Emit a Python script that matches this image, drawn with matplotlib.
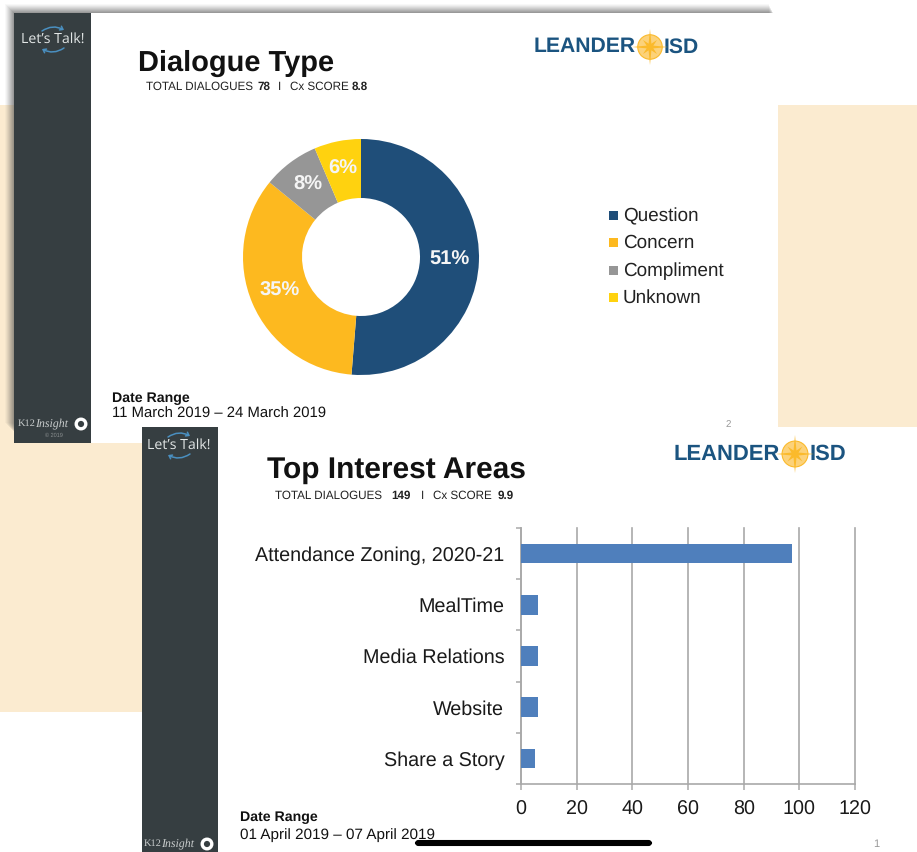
"""Two overlapping K12 Insight slides: dialogue type donut and top interest areas bars."""
import matplotlib
matplotlib.use("Agg")
import matplotlib.pyplot as plt
import numpy as np
from matplotlib.patches import Circle, FancyArrowPatch, FancyBboxPatch, Polygon, Rectangle

W, H = 917, 852

# donut data (78 dialogues in total, labels are rounded shares)
type_labels = ["Question", "Concern", "Compliment", "Unknown"]
type_values = [40, 27, 6, 5]
type_colors = ["#1F4E79", "#FDB91F", "#969696", "#FFD20F"]

# bar data
area_labels = ["Attendance Zoning, 2020-21", "MealTime", "Media Relations", "Website", "Share a Story"]
area_values = [97.5, 6, 6, 6, 5]
area_ticks = [0, 20, 40, 60, 80, 100, 120]

CREAM = "#FBEBD0"
SLATE = "#363E41"
NAVY = "#1B5480"
GOLD = "#FBBA2B"
GRID = "#A9A9A9"
INK = "#111111"
ARIAL = "Liberation Sans"

plt.rcParams["font.family"] = ARIAL
plt.rcParams["text.hinting"] = "none"
plt.rcParams["text.hinting_factor"] = 8


def px_axes(fig, x0, y0, x1, y1):
    """Axes placed with pixel edges measured from the top left of the figure."""
    return fig.add_axes([x0 / W, 1 - y1 / H, (x1 - x0) / W, (y1 - y0) / H])


def rect(ax, x0, y0, x1, y1, color, z=1, alpha=1.0):
    ax.add_patch(Rectangle((x0, y0), x1 - x0, y1 - y0, fc=color, ec="none", zorder=z, alpha=alpha))


def lets_talk(ax, cx, cy):
    ax.text(cx, cy, "Let\u2019s Talk!", color="#E2E6E6", fontsize=10.2, family="Open Sans",
            ha="center", va="center", zorder=5)
    ax.add_patch(FancyArrowPatch((cx - 11, cy - 8), (cx + 11, cy - 9), connectionstyle="arc3,rad=-0.3",
                                 arrowstyle="->,head_length=2,head_width=1.5", color="#4A8FC0", lw=1.1, zorder=5,
                                 shrinkA=0, shrinkB=0))
    ax.add_patch(FancyArrowPatch((cx + 11, cy + 9), (cx - 11, cy + 10), connectionstyle="arc3,rad=-0.3",
                                 arrowstyle="->,head_length=2,head_width=1.5", color="#4A8FC0", lw=1.1, zorder=5,
                                 shrinkA=0, shrinkB=0))


def k12(ax, x, y, r_x, copyright_mark=False):
    ax.text(x, y, "K12", color="#C9CDCD", fontsize=7.5, family="Liberation Serif", va="center", zorder=5)
    ax.text(x + 17, y, "Insight", color="#C9CDCD", fontsize=8.6, family="Liberation Serif",
            style="italic", va="center", zorder=5)
    ax.add_patch(Circle((r_x, y), 4.8, fc="none", ec="white", lw=2.4, zorder=5))
    if copyright_mark:
        ax.text(r_x - 27, y + 11, "\u00a9 2019", color="#8A8F90", fontsize=4, ha="center", va="center", zorder=5)


def logo(ax, xc, y, size, star):
    ax.text(xc - star * 0.78, y, "LEANDER", color=NAVY, fontsize=size, weight="bold",
            ha="right", va="center", zorder=5)
    ax.text(xc + star * 0.75, y, "ISD", color=NAVY, fontsize=size, weight="bold",
            ha="left", va="center", zorder=5)
    ax.add_patch(Circle((xc, y), star * 0.68, fc="#FCD27A", ec=GOLD, lw=0.8, zorder=6))
    pts = []
    for i in range(16):
        ang = np.pi * i / 8
        r = [star, star * 0.2, star * 0.55, star * 0.2][i % 4]
        pts.append((xc + r * np.sin(ang), y - r * np.cos(ang)))
    ax.add_patch(Polygon(pts, fc=GOLD, ec="none", zorder=7))


def subtitle(ax, y, parts):
    for x, s, bold in parts:
        ax.text(x, y, s, fontsize=8.4, color="#222222", weight="bold" if bold else "normal",
                ha="left", va="center", zorder=5)


fig = plt.figure(figsize=(W / 100, H / 100), dpi=100, facecolor="white")

# background layer, in pixel coordinates
bg = fig.add_axes([0, 0, 1, 1], zorder=0)
bg.set_xlim(0, W)
bg.set_ylim(H, 0)
bg.axis("off")

rect(bg, 0, 105, W, 712, CREAM, z=1)
rect(bg, 218, 427, W, H, "white", z=1)

# soft shadow on the first slide
for i, a in enumerate(np.linspace(0.04, 0.14, 9)):
    rect(bg, 14 - (9 - i), 13 - (9 - i), 773 - (9 - i) / 2, 432 - (9 - i), "#555555", z=2, alpha=a)

rect(bg, 14, 13, 778, 443, "white", z=3)
rect(bg, 14, 13, 91, 443, SLATE, z=3)
rect(bg, 142, 427, W, H, "white", z=3.5)
rect(bg, 142, 427, 218, H, SLATE, z=3.6)

# first slide text
lets_talk(bg, 53, 39)
k12(bg, 18, 424, 81, copyright_mark=True)
bg.text(138, 63, "Dialogue Type", fontsize=20.9, weight="bold", color=INK, va="center", zorder=5)
subtitle(bg, 87, [(146, "TOTAL DIALOGUES", False), (258, "78", True), (278, "I", False),
                  (290, "Cx SCORE", False), (352, "8.8", True)])
logo(bg, 650, 47, 15.2, 18)
bg.text(112, 398, "Date Range", fontsize=10.2, weight="bold", color=INK, va="center", zorder=5)
bg.text(112, 414, "11 March 2019 \u2013 24 March 2019", fontsize=10.7, color=INK, va="center", zorder=5)
bg.text(728, 424, "2", fontsize=7, color="#999999", ha="center", va="center", zorder=3.2)

# donut legend
legend_y = [215, 242, 270, 297]
for lab, col, y in zip(type_labels, type_colors, legend_y):
    rect(bg, 609, y - 4, 618, y + 5, col, z=5)
    bg.text(623, y + 6, lab, fontsize=13.6, color="#222222", va="baseline", zorder=5)

# second slide text
lets_talk(bg, 179, 445)
k12(bg, 144, 844, 207)
bg.text(267, 470, "Top Interest Areas", fontsize=21.5, weight="bold", color=INK, va="center", zorder=5)
subtitle(bg, 496, [(275, "TOTAL DIALOGUES", False), (391, "149", True), (421, "I", False),
                   (433, "Cx SCORE", False), (498, "9.9", True)])
logo(bg, 795, 454, 15.8, 19)
bg.text(240, 817, "Date Range", fontsize=10.2, weight="bold", color=INK, va="center", zorder=5)
bg.text(240, 835, "01 April 2019 \u2013 07 April 2019", fontsize=11, color=INK, va="center", zorder=5)
bg.text(876, 844, "1", fontsize=8, color="#999999", ha="center", va="center", zorder=5)

# phone home bar sits on top of the date line
bg.add_patch(FancyBboxPatch((416, 841), 235, 4, boxstyle="round,pad=0,rounding_size=2.5",
                            fc="black", ec="black", lw=1.5, zorder=8))

# donut
ax_pie = px_axes(fig, 243, 139, 479, 375)
ax_pie.set_zorder(2)
wedges, _ = ax_pie.pie(type_values, colors=type_colors, startangle=90, counterclock=False, radius=1,
                       wedgeprops=dict(width=0.5, edgecolor="none"))
ax_pie.set_xlim(-1, 1)
ax_pie.set_ylim(-1, 1)
total = sum(type_values)
for w, v in zip(wedges, type_values):
    mid = np.deg2rad((w.theta1 + w.theta2) / 2)
    ax_pie.text(0.75 * np.cos(mid), 0.75 * np.sin(mid) + 0.01, f"{round(100 * v / total)}%", color="#F5F5F5",
                fontsize=14.5, weight="bold", ha="center", va="center")

# bars
ax_bar = px_axes(fig, 521, 528, 855, 784)
ax_bar.set_zorder(2)
ax_bar.patch.set_alpha(0)
pos = np.arange(len(area_labels)) + 0.5
ax_bar.barh(pos, area_values, height=0.38, color="#4F7FBC", zorder=3)
ax_bar.set_xlim(area_ticks[0], area_ticks[-1])
ax_bar.set_ylim(len(area_labels), 0)
ax_bar.set_xticks(area_ticks)
ax_bar.set_yticks(np.arange(len(area_labels) + 1))
ax_bar.set_yticklabels([])
ax_bar.set_yticks(pos, labels=area_labels, minor=True)
ax_bar.tick_params(axis="y", which="major", length=3.6, color=GRID, width=1.1)
ax_bar.tick_params(axis="y", which="minor", length=0, pad=12, labelsize=14.2, labelcolor="#1A1A1A")
ax_bar.tick_params(axis="x", length=4.5, color=GRID, width=1.1, pad=7, labelsize=14.2, labelcolor="#1A1A1A")
ax_bar.grid(axis="x", color=GRID, lw=1.2, zorder=1)
for line in ax_bar.get_xgridlines():
    line.set_clip_on(False)
ax_bar.set_axisbelow(True)
for side in ("top", "right"):
    ax_bar.spines[side].set_visible(False)
for side in ("left", "bottom"):
    ax_bar.spines[side].set_color(GRID)
    ax_bar.spines[side].set_linewidth(1.2)

fig.savefig("out.png", dpi=100)
